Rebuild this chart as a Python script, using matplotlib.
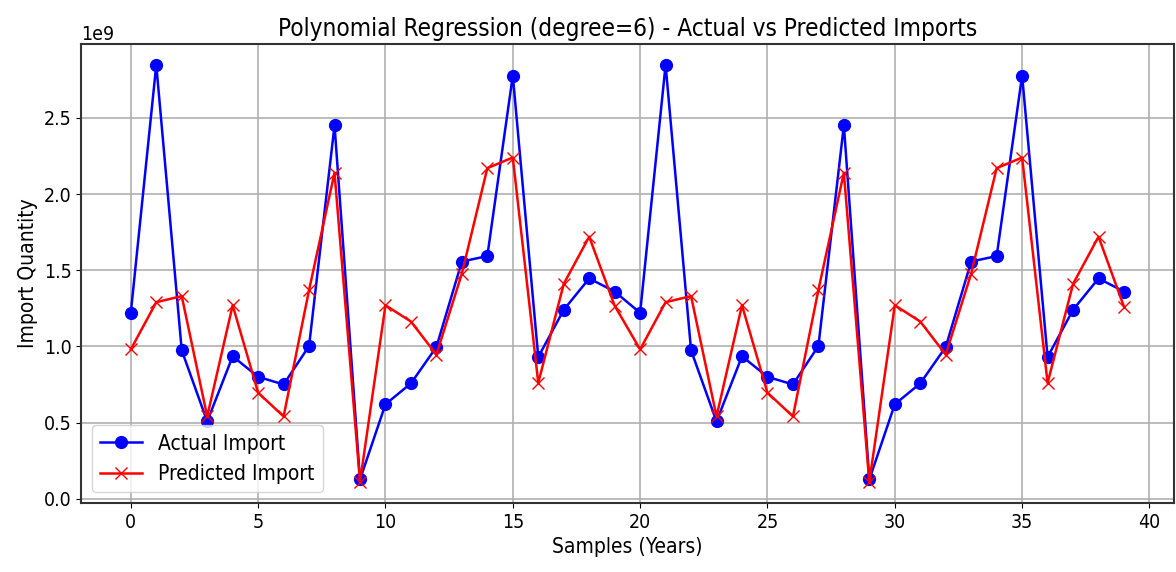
import matplotlib
matplotlib.use("Agg")
import matplotlib.pyplot as plt
import numpy as np

# values, in units of 1e9
actual = [1.22, 2.848, 0.974, 0.507, 0.935, 0.80, 0.75, 1.002, 2.452, 0.126,
          0.62, 0.757, 0.996, 1.557, 1.593, 2.778, 0.93, 1.24, 1.446, 1.36,
          1.22, 2.848, 0.974, 0.507, 0.935, 0.80, 0.75, 1.002, 2.452, 0.126,
          0.62, 0.757, 0.996, 1.557, 1.593, 2.778, 0.93, 1.24, 1.446, 1.36]
predicted = [0.98, 1.29, 1.33, 0.54, 1.27, 0.696, 0.54, 1.37, 2.14, 0.11,
             1.27, 1.163, 0.946, 1.478, 2.17, 2.24, 0.76, 1.41, 1.72, 1.267,
             0.98, 1.29, 1.33, 0.54, 1.27, 0.696, 0.54, 1.37, 2.14, 0.11,
             1.27, 1.163, 0.946, 1.478, 2.17, 2.24, 0.76, 1.41, 1.72, 1.26]

y_true = np.array(actual) * 1e9
y_pred = np.array(predicted) * 1e9
samples = np.arange(len(y_true))

plt.rcParams['font.family'] = ['DejaVu Sans']
plt.rcParams['font.stretch'] = 'condensed'

fig = plt.figure(figsize=(11.76, 5.72), dpi=100)
ax = fig.add_axes([0.069, 0.121, 0.929, 0.802])

ax.plot(samples, y_true, color='blue', marker='o', markersize=8.5,
        linewidth=1.8, label='Actual Import')
ax.plot(samples, y_pred, color='red', marker='x', markersize=8,
        linewidth=1.8, label='Predicted Import')

ax.set_title('Polynomial Regression (degree=6) - Actual vs Predicted Imports', fontsize=17.5)
ax.set_xlabel('Samples (Years)', fontsize=15)
ax.set_ylabel('Import Quantity', fontsize=15)
ax.tick_params(labelsize=14)
ax.yaxis.get_offset_text().set_fontsize(14)
ax.grid(True, color='#b0b0b0', linewidth=1.2)
for s in ax.spines.values():
    s.set_linewidth(1.5)
    s.set_color('#333333')
ax.legend(loc='lower left', fontsize=15)

fig.savefig('out.png', dpi=100)
